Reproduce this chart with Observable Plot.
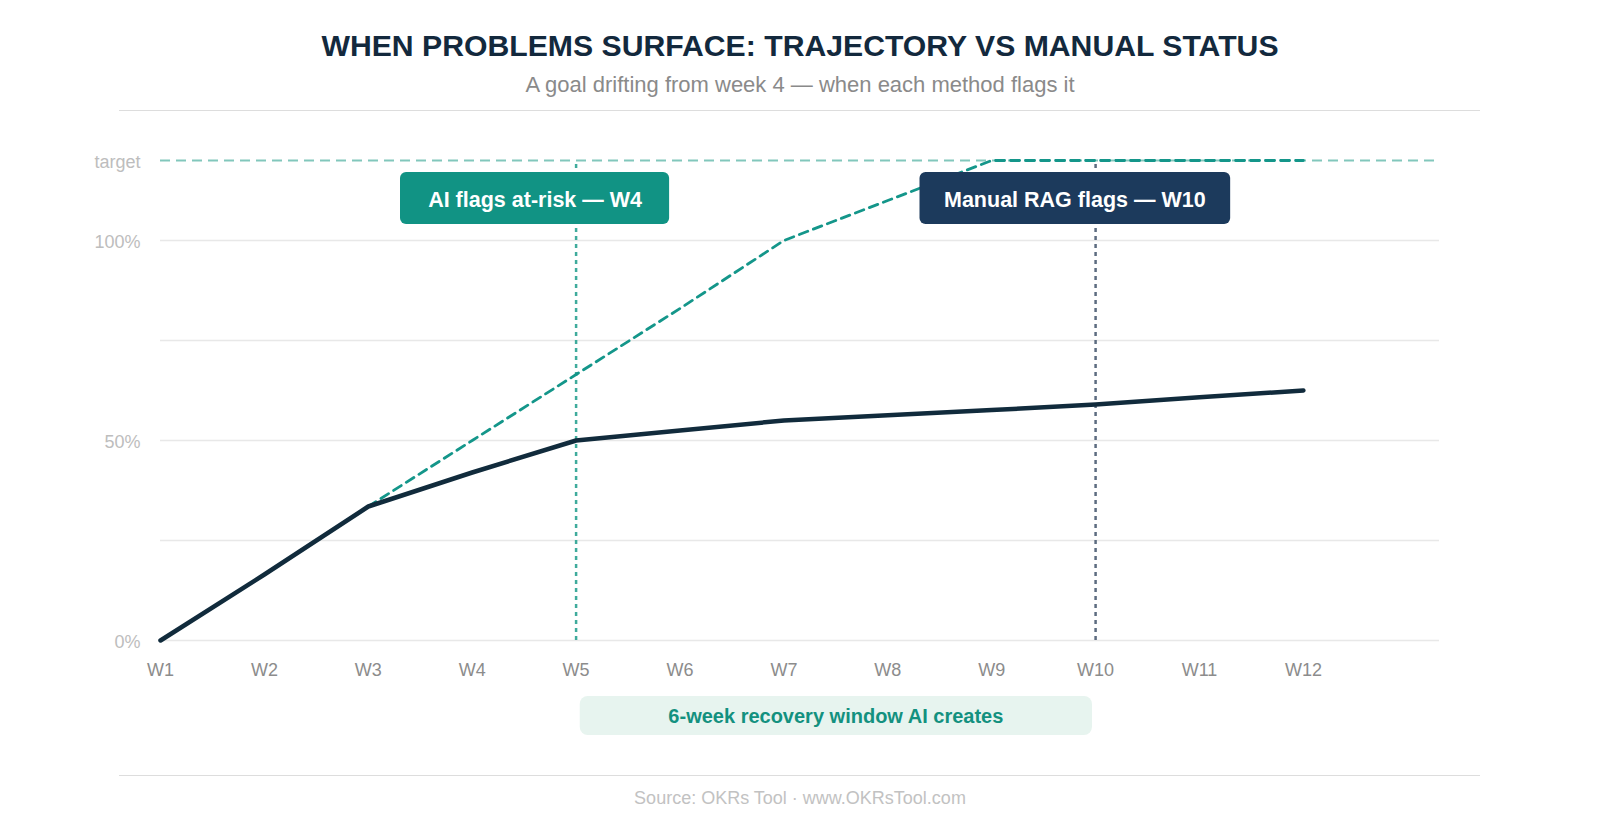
<!DOCTYPE html>
<html>
<head>
<meta charset="utf-8">
<script src="https://cdn.jsdelivr.net/npm/d3@7"></script>
<script src="https://cdn.jsdelivr.net/npm/@observablehq/plot@0.6"></script>
<style>
  html, body { margin: 0; padding: 0; background: #ffffff; }
  body { width: 1600px; height: 840px; position: relative; overflow: hidden;
         font-family: "Liberation Sans", Arial, Helvetica, sans-serif; }
  .title { position: absolute; left: 0; width: 1600px; top: 31px; text-align: center;
           font-size: 30.2px; line-height: 1; font-weight: 700; color: #13293d; }
  .subtitle { position: absolute; left: 0; width: 1600px; top: 74px; text-align: center;
              font-size: 22px; line-height: 1; color: #8a8a8a; }
  .rule { position: absolute; left: 119px; width: 1361px; height: 0; border-top: 1.5px solid #dddddd; }
  .source { position: absolute; left: 0; width: 1600px; top: 789px; text-align: center;
            font-size: 18px; line-height: 1; color: #c2c2c2; }
  #chart { position: absolute; left: 0; top: 120px; }
</style>
</head>
<body>
<div class="title">WHEN PROBLEMS SURFACE: TRAJECTORY VS MANUAL STATUS</div>
<div class="subtitle">A goal drifting from week 4 — when each method flags it</div>
<div class="rule" style="top:110px"></div>
<div id="chart"></div>
<div class="rule" style="top:775px"></div>
<div class="source">Source: OKRs Tool · www.OKRsTool.com</div>
<script>
// Weekly progress of the goal, in percent of target
const weeks = ["W1", "W2", "W3", "W4", "W5", "W6", "W7", "W8", "W9", "W10", "W11", "W12"];
const manualStatus = [0, 16.5, 33.5, 42, 50, 52.5, 55, 56.3, 57.6, 59, 60.8, 62.5];
const trajectory = [null, null, 33.5, 50, 66.5, 83, 100, 110, 120, 120, 120, 120];

// Y-axis ticks; the top line is the goal's target
const yTicks = [0, 50, 100, 120];
const yTickLabels = ["0%", "50%", "100%", "target"];
const gridLevels = [0, 25, 50, 75, 100];
const targetLevel = 120;

// When each method raises the flag (week index)
const aiFlagIndex = 4;
const manualFlagIndex = 9;
const aiFlagLabel = "AI flags at-risk — W4";
const manualFlagLabel = "Manual RAG flags — W10";
const windowLabel = "6-week recovery window AI creates";

const rows = weeks.map((w, i) => ({i, week: w, manual: manualStatus[i], trajectory: trajectory[i]}));
const trajRows = rows.filter(d => d.trajectory != null);

const font = "'Liberation Sans', Arial, Helvetica, sans-serif";

const chart = Plot.plot({
  width: 1600,
  height: 640,
  marginLeft: 160,
  marginRight: 161,
  marginTop: 40,
  marginBottom: 120,
  style: {fontFamily: font, background: "transparent", overflow: "visible"},
  x: {type: "linear", domain: [0, 12.31]},
  y: {type: "linear", domain: [0, targetLevel]},
  marks: [
    // horizontal grid
    Plot.ruleY(gridLevels, {stroke: "#e8e8e8", strokeWidth: 1.5}),
    // target line
    Plot.ruleY([targetLevel], {stroke: "#82c7bc", strokeWidth: 2, strokeDasharray: "10,6"}),
    // flag markers
    Plot.ruleX([aiFlagIndex], {y1: 0, y2: targetLevel, stroke: "#3fab9c", strokeWidth: 2.5, strokeDasharray: "4,4"}),
    Plot.ruleX([manualFlagIndex], {y1: 0, y2: targetLevel, stroke: "#5d6c80", strokeWidth: 2.5, strokeDasharray: "4,4"}),
    // projected trajectory
    Plot.line(trajRows, {x: "i", y: "trajectory", stroke: "#14968a", strokeWidth: 2.8, strokeDasharray: "9,6"}),
    // manual status
    Plot.line(rows, {x: "i", y: "manual", stroke: "#112b3c", strokeWidth: 4.5, strokeLinejoin: "round"}),
    // axes
    Plot.axisX({ticks: d3.range(weeks.length), tickFormat: i => weeks[i], tickSize: 0, tickPadding: 23,
                fontSize: 18, color: "#8c8c8c", label: null}),
    Plot.axisY({ticks: yTicks, tickFormat: v => yTickLabels[yTicks.indexOf(v)], tickSize: 0, tickPadding: 20,
                dy: 2, fontSize: 18, color: "#bdbdbd", label: null}),
    // flag badges
    Plot.rect([0], {x1: aiFlagIndex - 1.69, x2: aiFlagIndex + 0.9, y1: 104, y2: 117, fill: "#119384", rx: 6}),
    Plot.text([aiFlagLabel], {x: aiFlagIndex - 0.395, y: 110, text: d => d, fill: "#ffffff",
                              fontSize: 21.5, fontWeight: 700}),
    Plot.rect([0], {x1: manualFlagIndex - 1.69, x2: manualFlagIndex + 1.3, y1: 104, y2: 117, fill: "#1c3a5c", rx: 6}),
    Plot.text([manualFlagLabel], {x: manualFlagIndex - 0.2, y: 110, text: d => d, fill: "#ffffff",
                                  fontSize: 21.5, fontWeight: 700}),
    // recovery window between the two flags
    Plot.rect([0], {x1: aiFlagIndex + 0.04, x2: manualFlagIndex - 0.03, y1: -14, y2: -23.75, fill: "#e7f4ef", rx: 8}),
    Plot.text([windowLabel], {x: (aiFlagIndex + manualFlagIndex) / 2, y: -19, text: d => d, fill: "#13917f",
                              fontSize: 20, fontWeight: 700})
  ]
});
document.getElementById("chart").appendChild(chart);
</script>
</body>
</html>
